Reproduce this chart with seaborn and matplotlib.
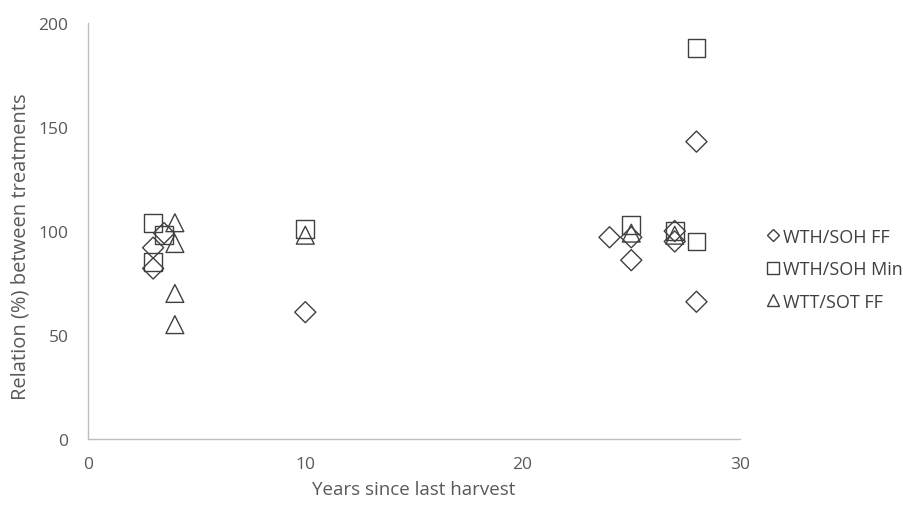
import pandas as pd
import matplotlib
matplotlib.use("Agg")
import matplotlib.pyplot as plt
import seaborn as sns
from matplotlib.lines import Line2D

# data
ff_years = [3, 3, 3.5, 10, 24, 25, 25, 27, 27, 28, 28]
ff_values = [82, 92, 99, 61, 97, 97, 86, 95, 100, 143, 66]

min_years = [3, 3, 3.5, 10, 25, 27, 28, 28]
min_values = [104, 85, 98, 101, 103, 100, 188, 95]

wtt_years = [4, 4, 4, 4, 10, 25, 27]
wtt_values = [104, 94, 70, 55, 98, 99, 98]

labels = ["WTH/SOH FF", "WTH/SOH Min", "WTT/SOT FF"]
markers = ["D", "s", "^"]
sizes = [115, 165, 165]

df = pd.concat([
    pd.DataFrame({"years": ff_years, "value": ff_values, "series": labels[0]}),
    pd.DataFrame({"years": min_years, "value": min_values, "series": labels[1]}),
    pd.DataFrame({"years": wtt_years, "value": wtt_values, "series": labels[2]}),
])

sns.set_style("white")
plt.rcParams["font.family"] = ["Open Sans", "DejaVu Sans"]

text_col = "#595959"
edge_col = "#404040"

fig = plt.figure(figsize=(9.04, 5.06), dpi=100)
ax = fig.add_axes([0.0973, 0.1304, 0.7212, 0.822])

for lab, mk, sz in zip(labels, markers, sizes):
    sub = df[df["series"] == lab]
    sns.scatterplot(data=sub, x="years", y="value", marker=mk, s=sz,
                    facecolor="none", edgecolor=edge_col, linewidth=1.0, ax=ax)

ax.set_xlim(0, 30)
ax.set_ylim(0, 200)
ax.set_xticks([0, 10, 20, 30])
ax.set_yticks([0, 50, 100, 150, 200])
ax.tick_params(axis="y", length=0, labelsize=12.5, labelcolor=text_col, pad=14)
ax.tick_params(axis="x", length=0, labelsize=12.5, labelcolor=text_col, pad=12)
ax.set_xlabel("Years since last harvest", fontsize=13.5, color=text_col, labelpad=6)
ax.set_ylabel("Relation (%) between treatments", fontsize=14.5, color=text_col)
ax.yaxis.set_label_coords(-0.088, 0.465)

for side in ["top", "right"]:
    ax.spines[side].set_visible(False)
for side in ["left", "bottom"]:
    ax.spines[side].set_color("#bfbfbf")
    ax.spines[side].set_linewidth(1.0)

handles = [Line2D([], [], linestyle="none", marker=mk, markersize=ms,
                  markerfacecolor="none", markeredgecolor=edge_col, markeredgewidth=1.0)
           for mk, ms in zip(markers, [6, 8, 8])]
leg = fig.legend(handles, labels, loc="center left", bbox_to_anchor=(0.83, 0.466),
                 frameon=False, fontsize=13, handlelength=0.7, handletextpad=0.2,
                 labelspacing=0.8)
for t in leg.get_texts():
    t.set_color("#404040")

fig.savefig("out.png", dpi=100)
